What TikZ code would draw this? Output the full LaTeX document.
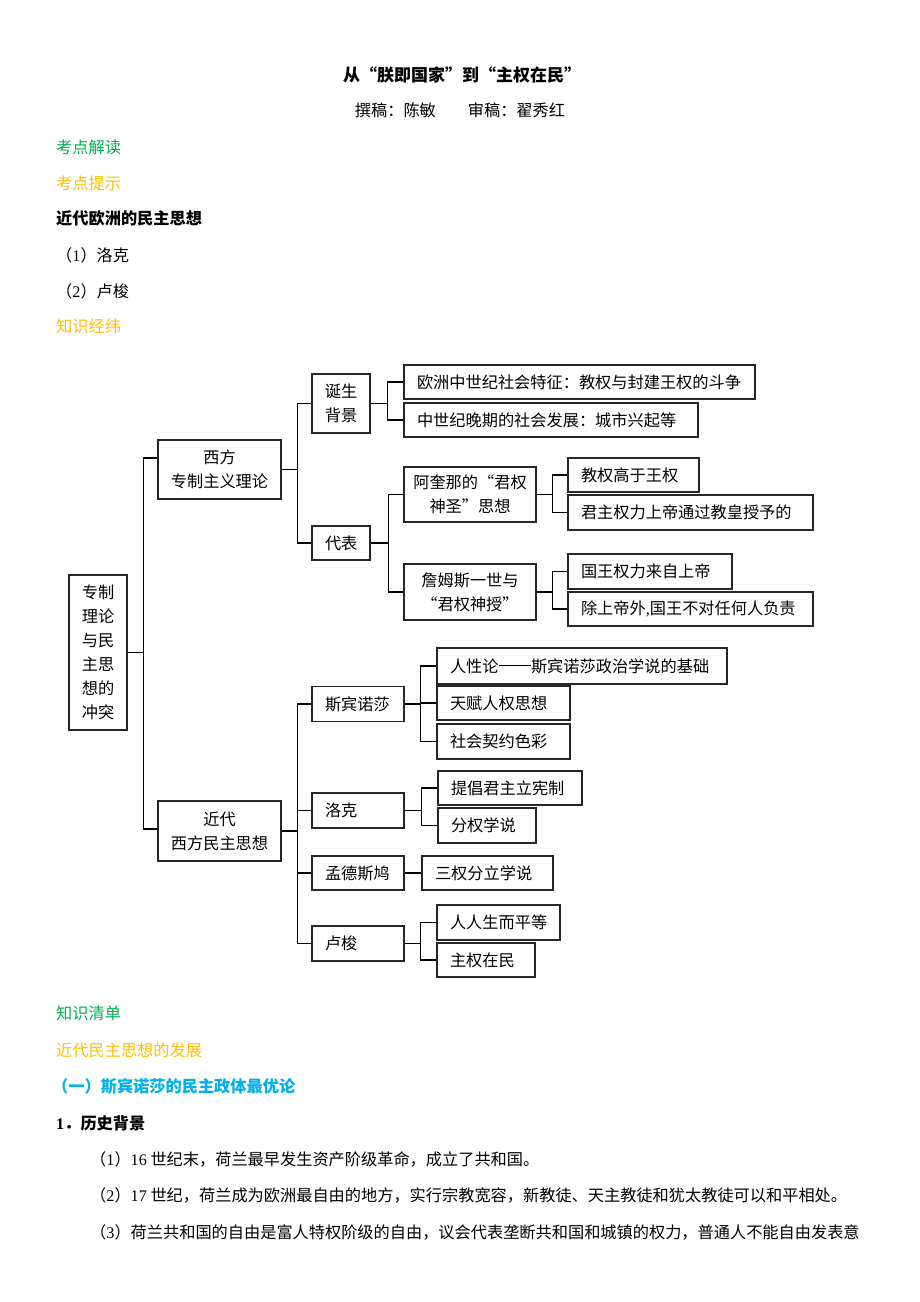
\documentclass[tikz,border=0pt]{standalone}
\usepackage{fontspec}
\newfontfamily\cjk{Noto Sans CJK SC}
\newfontfamily\tm{Liberation Serif}
\definecolor{hgreen}{HTML}{00B050}
\definecolor{horange}{HTML}{FFC000}
\definecolor{hblue}{HTML}{00B0F0}
\begin{document}
\begin{tikzpicture}[x=1pt,y=-1pt,
  every node/.style={font=\cjk\fontsize{16.2}{24}\selectfont, inner sep=0pt},
  txt/.style={anchor=west},
  box/.style={draw=black!85, line width=1.1pt, inner xsep=13pt, inner ysep=0pt, align=left},
  cbox/.style={draw=black!85, line width=1.1pt, inner xsep=0pt, inner ysep=0pt, align=center},
  link/.style={draw=black, line width=1.1pt}
]
\useasboundingbox[fill=white] (0,0) rectangle (920,1302);

% header
\node[font=\cjk\fontsize{17}{24}\selectfont] (title) at (462,75) {\bfseries 从“朕即国家”到“主权在民”};
\node (author) at (460,110) {撰稿：陈敏\hspace{32pt}审稿：翟秀红};
\node[txt, text=hgreen] (h1) at (56,147) {考点解读};
\node[txt, text=horange] (h2) at (56,183) {考点提示};
\node[txt] (h3) at (56,218) {\bfseries 近代欧洲的民主思想};
\node[txt] (p1) at (56,255) {（{\tm 1}）洛克};
\node[txt] (p2) at (56,291) {（{\tm 2}）卢梭};
\node[txt, text=horange] (h4) at (56,326) {知识经纬};

% diagram nodes
\node[cbox, text width=58pt, minimum height=155pt] (root) at (98,652.5)
  {专制\\理论\\与民\\主思\\想的\\冲突};
\node[cbox, text width=123pt, minimum height=59pt] (xf) at (219.5,469.5) {西方\\专制主义理论};
\node[cbox, text width=123pt, minimum height=60pt] (jd) at (219.5,831) {近代\\西方民主思想};

\node[cbox, text width=58pt, minimum height=59pt] (ds) at (341,403.5) {诞生\\背景};
\node[box, text width=32pt, minimum height=34pt] (db) at (341,543) {代表};

\node[box, text width=325pt, minimum height=34pt] (b1) at (579.5,382) {欧洲中世纪社会特征：教权与封建王权的斗争};
\node[box, text width=268pt, minimum height=34pt] (b2) at (551,420) {中世纪晚期的社会发展：城市兴起等};

\node[cbox, text width=132pt, minimum height=55pt] (aq) at (470,494.5) {阿奎那的“君权\\神圣”思想};
\node[cbox, text width=132pt, minimum height=56pt] (jm) at (470,592) {詹姆斯一世与\\“君权神授”};

\node[box, text width=105pt, minimum height=34pt] (c1) at (633.5,475) {教权高于王权};
\node[box, text width=219pt, minimum height=35pt] (c2) at (690.5,512.5) {君主权力上帝通过教皇授予的};
\node[box, text width=138pt, minimum height=35pt] (c3) at (650,571.5) {国王权力来自上帝};
\node[box, text width=219pt, minimum height=34pt] (c4) at (690.5,609) {除上帝外{\tm ,}国王不对任何人负责};

\node[box, text width=66pt, minimum height=35pt] (sb) at (358,704) {斯宾诺莎};
\node[box, text width=264pt, minimum height=36pt] (s1) at (582,666)
  {人性论\rule[0.36em]{32.4pt}{0.9pt}斯宾诺莎政治学说的基础};
\node[box, text width=107pt, minimum height=34pt] (s2) at (503.5,703) {天赋人权思想};
\node[box, text width=107pt, minimum height=35pt] (s3) at (503.5,741.5) {社会契约色彩};

\node[box, text width=66pt, minimum height=35pt] (lk) at (358,810.5) {洛克};
\node[box, text width=118pt, minimum height=34pt] (l1) at (510,788) {提倡君主立宪制};
\node[box, text width=72pt, minimum height=35pt] (l2) at (487,825.5) {分权学说};

\node[box, text width=66pt, minimum height=34pt] (md) at (358,873) {孟德斯鸠};
\node[box, text width=105pt, minimum height=34pt] (m1) at (487.5,873) {三权分立学说};

\node[box, text width=66pt, minimum height=35pt] (ls) at (358,943.5) {卢梭};
\node[box, text width=97pt, minimum height=35pt] (r1) at (498.5,922.5) {人人生而平等};
\node[box, text width=72pt, minimum height=34pt] (r2) at (486,960) {主权在民};

% connectors
\draw[link] (root.east) -- ++(16,0) |- ([yshift=11.5pt]xf.west);
\draw[link] (root.east) -- ++(16,0) |- ([yshift=2pt]jd.west);

\draw[link] (xf.east) -- ++(16,0) |- (ds.west);
\draw[link] (xf.east) -- ++(16,0) |- (db.west);
\draw[link] (ds.east) -- ++(17,0) |- (b1.west);
\draw[link] (ds.east) -- ++(17,0) |- (b2.west);
\draw[link] (db.east) -- ++(18,0) |- (aq.west);
\draw[link] (db.east) -- ++(18,0) |- (jm.west);
\draw[link] (aq.east) -- ++(16,0) |- (c1.west);
\draw[link] (aq.east) -- ++(16,0) |- (c2.west);
\draw[link] (jm.east) -- ++(16,0) |- (c3.west);
\draw[link] (jm.east) -- ++(16,0) |- (c4.west);

\draw[link] (jd.east) -- ++(16,0) |- (sb.west);
\draw[link] (jd.east) -- ++(16,0) |- (lk.west);
\draw[link] (jd.east) -- ++(16,0) |- (md.west);
\draw[link] (jd.east) -- ++(16,0) |- (ls.west);
\draw[link] (sb.east) -- ++(16,0) |- (s1.west);
\draw[link] (sb.east) -- ++(16,0) |- (s2.west);
\draw[link] (sb.east) -- ++(16,0) |- (s3.west);
\draw[link] (lk.east) -- ++(17,0) |- (l1.west);
\draw[link] (lk.east) -- ++(17,0) |- (l2.west);
\draw[link] (md.east) -- (m1.west);
\draw[link] (ls.east) -- ++(16,0) |- (r1.west);
\draw[link] (ls.east) -- ++(16,0) |- (r2.west);

% lower text
\node[txt, text=hgreen] (h5) at (56,1013) {知识清单};
\node[txt, text=horange] (h6) at (56,1050) {近代民主思想的发展};
\node[txt, text=hblue] (h7) at (52,1086) {\bfseries （一）斯宾诺莎的民主政体最优论};
\node[txt] (h8) at (56,1123) {\bfseries {\tm 1}．历史背景};
\node[txt] (q1) at (90,1159) {（{\tm 1}）{\tm 16} 世纪末，荷兰最早发生资产阶级革命，成立了共和国。};
\node[txt] (q2) at (90,1195) {（{\tm 2}）{\tm 17} 世纪，荷兰成为欧洲最自由的地方，实行宗教宽容，新教徒、天主教徒和犹太教徒可以和平相处。};
\node[txt] (q3) at (90,1232) {（{\tm 3}）荷兰共和国的自由是富人特权阶级的自由，议会代表垄断共和国和城镇的权力，普通人不能自由发表意};
\end{tikzpicture}
\end{document}
